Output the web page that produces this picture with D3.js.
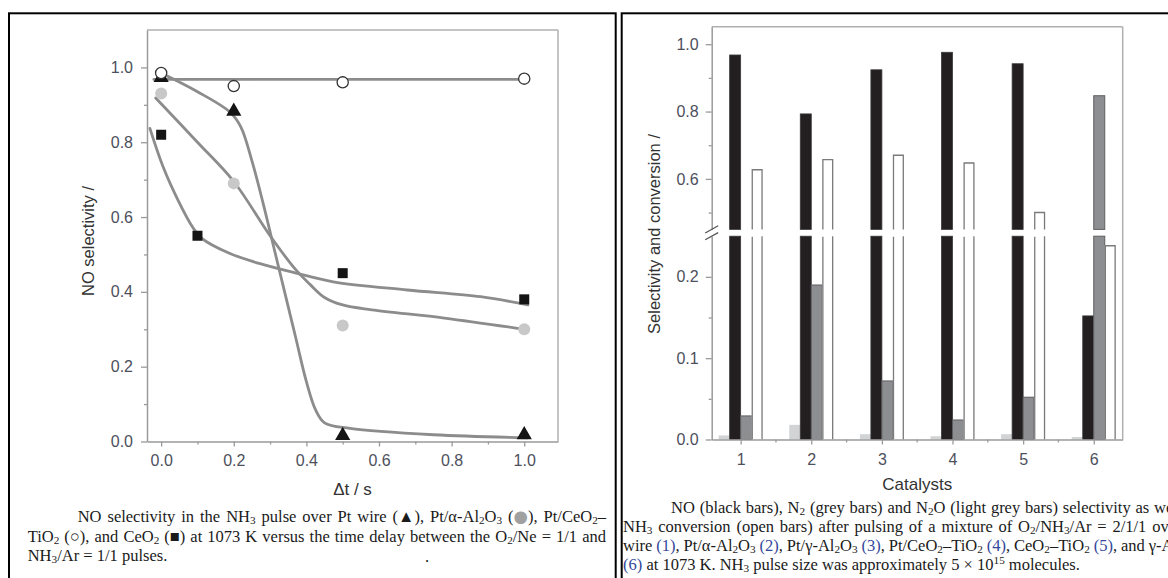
<!DOCTYPE html>
<html><head><meta charset="utf-8">
<script src="https://cdn.jsdelivr.net/npm/d3@7"></script>
<style>
html,body{margin:0;padding:0;background:#fff;overflow:hidden;width:1168px;height:578px;}
#wrap{position:relative;width:1168px;height:578px;overflow:hidden;}
svg{position:absolute;left:0;top:0;}
.cap{position:absolute;display:inline-block;font-family:"Liberation Serif","Times New Roman",serif;font-size:16.5px;color:#1a1a1a;line-height:19px;white-space:nowrap;}
.cap sub,.cap sup{font-size:0.68em;line-height:0;}
.cap sub{vertical-align:-0.18em;}
.cap .ref{color:#34489a;}
.cap .gsym{color:#a0a0a0;font-family:"DejaVu Sans",sans-serif;font-size:1.0em;line-height:0;}
</style></head><body><div id="wrap"><svg id="chart" width="1168" height="578"></svg></div>
<script>
// ---------- Left chart data: NO selectivity vs time delay ----------
const ptWireX = [0, 0.2, 0.5, 1.0];
const ptWireY = [0.97, 0.88, 0.013, 0.015];
const alphaX  = [0, 0.2, 0.5, 1.0];
const alphaY  = [0.93, 0.69, 0.31, 0.30];
const ceTiX   = [0, 0.2, 0.5, 1.0];
const ceTiY   = [0.985, 0.95, 0.96, 0.97];
const ceO2X   = [0, 0.1, 0.5, 1.0];
const ceO2Y   = [0.82, 0.55, 0.45, 0.38];
// fitted guide curves (data units)
const fitPtWire = [[0,0.985],[0.1,0.935],[0.19,0.88],[0.22,0.84],[0.25,0.75],[0.28,0.64],[0.31,0.52],[0.34,0.40],[0.37,0.28],[0.40,0.16],[0.425,0.085],[0.45,0.05],[0.52,0.035],[0.75,0.018],[1.01,0.01]];
const fitAlpha  = [[-0.015,0.918],[0.1,0.80],[0.2,0.695],[0.3,0.55],[0.37,0.46],[0.41,0.42],[0.45,0.385],[0.50,0.365],[0.58,0.352],[0.78,0.33],[1.0,0.30]];
const fitCeO2   = [[-0.031,0.837],[0.005,0.735],[0.046,0.646],[0.086,0.574],[0.112,0.543],[0.188,0.503],[0.27,0.476],[0.372,0.45],[0.474,0.427],[0.678,0.405],[0.88,0.387],[1.01,0.365]];
const fitCeTi   = [[-0.02,0.968],[1.0,0.968]];
const xTicksL = [0, 0.2, 0.4, 0.6, 0.8, 1.0];
const xMinorL = [0.1, 0.3, 0.5, 0.7, 0.9];
const yTicksL = [0, 0.2, 0.4, 0.6, 0.8, 1.0];
const yMinorL = [0.1, 0.3, 0.5, 0.7, 0.9];

// ---------- Right chart data: selectivity & conversion by catalyst ----------
const catalysts = ["1","2","3","4","5","6"];
const n2oSel  = [0.005, 0.018, 0.0065, 0.004, 0.0065, 0.003];
const noSel   = [0.968, 0.793, 0.924, 0.976, 0.942, 0.152];
const n2Sel   = [0.029, 0.19, 0.072, 0.024, 0.052, 0.847];
const nh3Conv = [0.629, 0.659, 0.672, 0.649, 0.502, 0.239];
const seriesKeys = ["n2o","no","n2","conv"];
const yTicksUp = [0.6, 0.8, 1.0];
const yMinorUp = [0.5, 0.7, 0.9];
const yTicksLo = [0.0, 0.1, 0.2];
const yMinorLo = [0.05, 0.15];

// ---------- Captions ----------
const leftCaption = [
 'NO selectivity in the NH<sub>3</sub> pulse over Pt wire (▲), Pt/α-Al<sub>2</sub>O<sub>3</sub> (<span class="gsym">●</span>), Pt/CeO<sub>2</sub>–',
 'TiO<sub>2</sub> (○), and CeO<sub>2</sub> (■) at 1073 K versus the time delay between the O<sub>2</sub>/Ne = 1/1 and',
 'NH<sub>3</sub>/Ar = 1/1 pulses.'
];
const rightCaption = [
 'NO (black bars), N<sub>2</sub> (grey bars) and N<sub>2</sub>O (light grey bars) selectivity as well as',
 'NH<sub>3</sub> conversion (open bars) after pulsing of a mixture of O<sub>2</sub>/NH<sub>3</sub>/Ar = 2/1/1 over Pt',
 'wire <span class="ref">(1)</span>, Pt/α-Al<sub>2</sub>O<sub>3</sub> <span class="ref">(2)</span>, Pt/γ-Al<sub>2</sub>O<sub>3</sub> <span class="ref">(3)</span>, Pt/CeO<sub>2</sub>–TiO<sub>2</sub> <span class="ref">(4)</span>, CeO<sub>2</sub>–TiO<sub>2</sub> <span class="ref">(5)</span>, and γ-Al<sub>2</sub>O<sub>3</sub>',
 '<span class="ref">(6)</span> at 1073 K. NH<sub>3</sub> pulse size was approximately 5 × 10<sup>15</sup> molecules.'
];

const svg = d3.select("#chart");
const sans = "'Liberation Sans', Arial, sans-serif";
const axisCol = "#9a9a9a", labCol = "#4d505c";

// panel borders
svg.append("rect").attr("x",9).attr("y",13.3).attr("width",606.7).attr("height",620)
  .attr("fill","none").attr("stroke","#000").attr("stroke-width",2);
svg.append("rect").attr("x",621.7).attr("y",13.3).attr("width",700).attr("height",620)
  .attr("fill","none").attr("stroke","#000").attr("stroke-width",2);

function styleAxis(g){
  g.select(".domain").attr("stroke",axisCol).attr("stroke-width",1.5);
  g.selectAll(".tick line").attr("stroke",axisCol).attr("stroke-width",1.3);
  g.selectAll(".tick text").attr("fill",labCol).style("font-family",sans).style("font-size","16px");
}

// ================= LEFT CHART =================
const xL = d3.scaleLinear().domain([-0.039, 1.093]).range([147, 558]);
const yL = d3.scaleLinear().domain([0, 1.1]).range([441.5, 30]);
const gL = svg.append("g");

gL.append("line").attr("x1",147).attr("x2",xL.range()[1]).attr("y1",yL(1.1)).attr("y2",yL(1.1)).attr("stroke","#b0b0b0").attr("stroke-width",1.5);
gL.append("line").attr("x1",xL.range()[1]).attr("x2",xL.range()[1]).attr("y1",yL(1.1)).attr("y2",yL(0)).attr("stroke","#b0b0b0").attr("stroke-width",1.5);

const axYL = gL.append("g").attr("transform",`translate(${xL.range()[0]},0)`)
  .call(d3.axisLeft(yL).tickValues(yTicksL).tickFormat(d3.format(".1f")).tickSize(6).tickSizeOuter(0).tickPadding(8));
styleAxis(axYL);
const axYLm = gL.append("g").attr("transform",`translate(${xL.range()[0]},0)`)
  .call(d3.axisLeft(yL).tickValues(yMinorL).tickFormat("").tickSize(3).tickSizeOuter(0));
styleAxis(axYLm); axYLm.select(".domain").remove();

const axXL = gL.append("g").attr("transform",`translate(0,${yL(0)})`)
  .call(d3.axisBottom(xL).tickValues(xTicksL).tickFormat(d3.format(".1f")).tickSize(5).tickSizeOuter(0).tickPadding(8));
styleAxis(axXL);
const axXLm = gL.append("g").attr("transform",`translate(0,${yL(0)})`)
  .call(d3.axisBottom(xL).tickValues(xMinorL).tickFormat("").tickSize(3).tickSizeOuter(0));
styleAxis(axXLm); axXLm.select(".domain").remove();

const lineGen = d3.line().x(d=>xL(d[0])).y(d=>yL(d[1])).curve(d3.curveCatmullRom.alpha(0.5));
[fitCeTi, fitPtWire, fitAlpha, fitCeO2].forEach(c=>{
  gL.append("path").attr("d",lineGen(c)).attr("fill","none").attr("stroke","#8c8c8c").attr("stroke-width",2.8).attr("stroke-linecap","round");
});

const tri = d3.symbol().type(d3.symbolTriangle).size(100);
gL.selectAll(".tri").data(d3.zip(ptWireX, ptWireY)).join("path")
  .attr("d",tri).attr("transform",d=>`translate(${xL(d[0])},${yL(d[1])-1})`).attr("fill","#141414");
gL.selectAll(".gc").data(d3.zip(alphaX, alphaY)).join("circle")
  .attr("cx",d=>xL(d[0])).attr("cy",d=>yL(d[1])).attr("r",6).attr("fill","#c8c8c8");
gL.selectAll(".sq").data(d3.zip(ceO2X, ceO2Y)).join("rect")
  .attr("x",d=>xL(d[0])-5).attr("y",d=>yL(d[1])-5).attr("width",10).attr("height",10).attr("fill","#141414");
gL.selectAll(".oc").data(d3.zip(ceTiX, ceTiY)).join("circle")
  .attr("cx",d=>xL(d[0])).attr("cy",d=>yL(d[1])).attr("r",5.6).attr("fill","#fff").attr("stroke","#333").attr("stroke-width",1.3);

gL.append("text").attr("transform",`translate(94,241) rotate(-90)`).attr("text-anchor","middle")
  .style("font-family",sans).style("font-size","16.5px").attr("fill","#333").text("NO selectivity /");
gL.append("text").attr("x",(xL.range()[0]+xL.range()[1])/2).attr("y",495).attr("text-anchor","middle")
  .style("font-family",sans).style("font-size","17px").attr("fill","#333").text("Δt / s");

// ================= RIGHT CHART =================
const xR = d3.scalePoint().domain(catalysts).range([711.7, 1122.7]).padding(0.41);
const yUp = d3.scaleLinear().domain([0.45, 1.052]).range([229.4, 26.7]);
const yLo = d3.scaleLinear().domain([0, 0.25]).range([439.5, 236.2]);
const sub = d3.scaleBand().domain(seriesKeys).range([-22, 22]).padding(0);
const gR = svg.append("g");
const xr0 = xR.range()[0], xr1 = xR.range()[1];

gR.append("line").attr("x1",xr0).attr("x2",xr1).attr("y1",yUp(1.052)).attr("y2",yUp(1.052)).attr("stroke","#b0b0b0").attr("stroke-width",1.5);
gR.append("line").attr("x1",xr1).attr("x2",xr1).attr("y1",yUp(1.052)).attr("y2",yLo(0)).attr("stroke","#b0b0b0").attr("stroke-width",1.5);

const values = {n2o:n2oSel, no:noSel, n2:n2Sel, conv:nh3Conv};
const styles = {
  n2o:{fill:"#d2d3d5", stroke:"none", sw:0},
  no:{fill:"#231f20", stroke:"#3a3a3a", sw:0.8},
  n2:{fill:"#8d8e91", stroke:"#5f5f60", sw:1},
  conv:{fill:"#ffffff", stroke:"#7a7a7a", sw:1.3}
};
const barData = [];
catalysts.forEach((c,i)=>seriesKeys.forEach(k=>barData.push({c, k, v:values[k][i]})));
barData.forEach(d=>{
  const x0 = xR(d.c) + sub(d.k), w = sub.bandwidth(), st = styles[d.k];
  const segs = [];
  segs.push({top: yLo(Math.min(d.v,0.25)), bot: yLo(0), hasTop: d.v <= 0.25});
  if (d.v > 0.45) segs.push({top: yUp(d.v), bot: yUp(0.45), hasTop: true});
  segs.forEach(s=>{
    if (d.k === "conv") {
      gR.append("rect").attr("x",x0).attr("y",s.top).attr("width",w).attr("height",s.bot-s.top).attr("fill","#fff");
      const p = d3.path();
      p.moveTo(x0+0.6, s.bot); p.lineTo(x0+0.6, s.top+0.6);
      if (s.hasTop) { p.lineTo(x0+w-0.6, s.top+0.6); } else { p.moveTo(x0+w-0.6, s.top); }
      p.lineTo(x0+w-0.6, s.bot);
      gR.append("path").attr("d",p.toString()).attr("fill","none").attr("stroke",st.stroke).attr("stroke-width",st.sw);
    } else {
      gR.append("rect").attr("x",x0).attr("y",s.top).attr("width",w).attr("height",s.bot-s.top)
        .attr("fill",st.fill).attr("stroke",st.stroke).attr("stroke-width",st.sw);
    }
  });
});

const axU = gR.append("g").attr("transform",`translate(${xr0},0)`)
  .call(d3.axisLeft(yUp).tickValues(yTicksUp).tickFormat(d3.format(".1f")).tickSize(6).tickSizeOuter(0).tickPadding(7));
styleAxis(axU);
const axUm = gR.append("g").attr("transform",`translate(${xr0},0)`)
  .call(d3.axisLeft(yUp).tickValues(yMinorUp).tickFormat("").tickSize(3).tickSizeOuter(0));
styleAxis(axUm); axUm.select(".domain").remove();
const axLo = gR.append("g").attr("transform",`translate(${xr0},0)`)
  .call(d3.axisLeft(yLo).tickValues(yTicksLo).tickFormat(d3.format(".1f")).tickSize(6).tickSizeOuter(0).tickPadding(7));
styleAxis(axLo);
const axLom = gR.append("g").attr("transform",`translate(${xr0},0)`)
  .call(d3.axisLeft(yLo).tickValues(yMinorLo).tickFormat("").tickSize(3).tickSizeOuter(0));
styleAxis(axLom); axLom.select(".domain").remove();

[yUp(0.45), yLo(0.25)].forEach(yb=>{
  gR.append("line").attr("x1",xr0-6.5).attr("y1",yb+3.6).attr("x2",xr0+6.5).attr("y2",yb-3.6)
    .attr("stroke","#555").attr("stroke-width",1.3);
});

const axXR = gR.append("g").attr("transform",`translate(0,${yLo(0)})`)
  .call(d3.axisBottom(xR).tickSize(5).tickSizeOuter(0).tickPadding(9));
styleAxis(axXR);
const mids = catalysts.slice(0,-1).map((c,i)=>(xR(c)+xR(catalysts[i+1]))/2);
gR.selectAll(".mt").data(mids).join("line").attr("x1",d=>d).attr("x2",d=>d)
  .attr("y1",yLo(0)).attr("y2",yLo(0)+3).attr("stroke",axisCol).attr("stroke-width",1.3);

gR.append("text").attr("transform",`translate(660,234) rotate(-90)`).attr("text-anchor","middle")
  .style("font-family",sans).style("font-size","16.5px").attr("fill","#333").text("Selectivity and conversion /");
gR.append("text").attr("x",(xr0+xr1)/2).attr("y",490).attr("text-anchor","middle")
  .style("font-family",sans).style("font-size","17px").attr("fill","#333").text("Catalysts");

// ================= CAPTIONS =================
const wrap = document.getElementById("wrap");
function addLine(html, left, baseline, target){
  const el = document.createElement("div");
  el.className = "cap";
  el.innerHTML = html;
  el.style.left = left + "px";
  el.style.top = (baseline - 15.1) + "px";
  wrap.appendChild(el);
  if (target) {
    const w = el.getBoundingClientRect().width;
    const n = (el.textContent.match(/ /g)||[]).length;
    if (n>0) el.style.wordSpacing = ((target - w)/n) + "px";
  }
}
addLine(leftCaption[0], 77.7, 522.5, 606-77.7);
addLine(leftCaption[1], 27.7, 542, 606-27.7);
addLine(leftCaption[2], 27.7, 561.5, null);
addLine(".", 425, 562, null);
addLine(rightCaption[0], 671, 513, 1201-671);
addLine(rightCaption[1], 623, 532, 1201-623);
addLine(rightCaption[2], 623, 551, 1201-623);
addLine(rightCaption[3], 623, 570, null);
</script></body></html>
